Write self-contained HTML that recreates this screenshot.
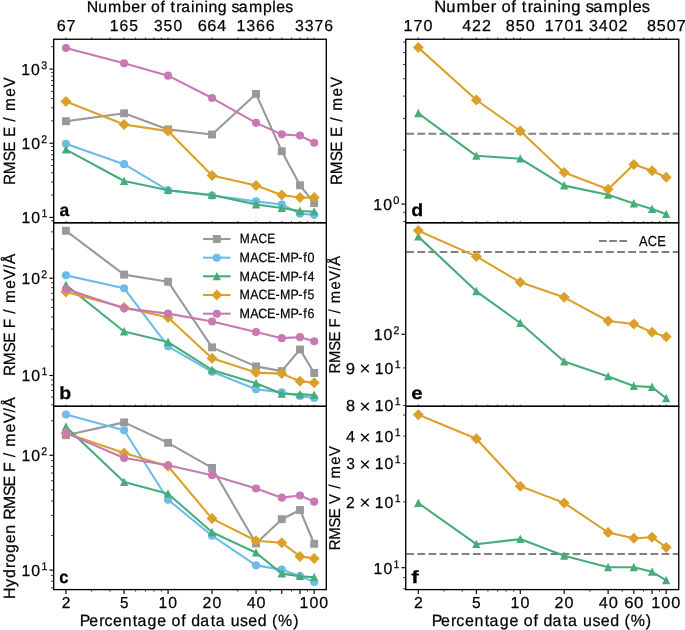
<!DOCTYPE html>
<html><head><meta charset="utf-8"><title>Learning curves</title>
<style>html,body{margin:0;padding:0;background:#fff;}svg{display:block;}text{font-family:"Liberation Sans",sans-serif;text-rendering:geometricPrecision;stroke:#000;stroke-width:0.25px;}</style>
</head><body>
<svg width="685" height="630" viewBox="0 0 685 630" font-family="Liberation Sans, sans-serif">
<rect width="685" height="630" fill="#fff"/>
<g opacity="0.999">
<g>
<polyline points="65.95,121.2 124.09,113.3 168.07,129.4 212.05,134.5 256.03,93.9 281.76,151.2 300.01,185.3 314.17,203.1" fill="none" stroke="#999999" stroke-width="2.1" stroke-linejoin="round" stroke-linecap="square"/>
<rect x="62" y="117.25" width="7.9" height="7.9" fill="#999999"/>
<rect x="120.14" y="109.35" width="7.9" height="7.9" fill="#999999"/>
<rect x="164.12" y="125.45" width="7.9" height="7.9" fill="#999999"/>
<rect x="208.1" y="130.55" width="7.9" height="7.9" fill="#999999"/>
<rect x="252.08" y="89.95" width="7.9" height="7.9" fill="#999999"/>
<rect x="277.81" y="147.25" width="7.9" height="7.9" fill="#999999"/>
<rect x="296.06" y="181.35" width="7.9" height="7.9" fill="#999999"/>
<rect x="310.22" y="199.15" width="7.9" height="7.9" fill="#999999"/>
<polyline points="65.95,143.75 124.09,164.15 168.07,190.35 212.05,195.45 256.03,201.35 281.76,204.45 300.01,213.65 314.17,214.85" fill="none" stroke="#6CBCE8" stroke-width="2.1" stroke-linejoin="round" stroke-linecap="square"/>
<circle cx="65.95" cy="143.75" r="4.05" fill="#6CBCE8"/>
<circle cx="124.09" cy="164.15" r="4.05" fill="#6CBCE8"/>
<circle cx="168.07" cy="190.35" r="4.05" fill="#6CBCE8"/>
<circle cx="212.05" cy="195.45" r="4.05" fill="#6CBCE8"/>
<circle cx="256.03" cy="201.35" r="4.05" fill="#6CBCE8"/>
<circle cx="281.76" cy="204.45" r="4.05" fill="#6CBCE8"/>
<circle cx="300.01" cy="213.65" r="4.05" fill="#6CBCE8"/>
<circle cx="314.17" cy="214.85" r="4.05" fill="#6CBCE8"/>
<polyline points="65.95,149.6 124.09,181 168.07,190.2 212.05,195 256.03,204.5 281.76,208 300.01,211 314.17,211.7" fill="none" stroke="#46AC79" stroke-width="2.1" stroke-linejoin="round" stroke-linecap="square"/>
<path d="M65.95 145.1L70.1 153.5L61.8 153.5Z" fill="#46AC79"/>
<path d="M124.09 176.5L128.24 184.9L119.94 184.9Z" fill="#46AC79"/>
<path d="M168.07 185.7L172.22 194.1L163.92 194.1Z" fill="#46AC79"/>
<path d="M212.05 190.5L216.2 198.9L207.9 198.9Z" fill="#46AC79"/>
<path d="M256.03 200L260.18 208.4L251.88 208.4Z" fill="#46AC79"/>
<path d="M281.76 203.5L285.91 211.9L277.61 211.9Z" fill="#46AC79"/>
<path d="M300.01 206.5L304.16 214.9L295.86 214.9Z" fill="#46AC79"/>
<path d="M314.17 207.2L318.32 215.6L310.02 215.6Z" fill="#46AC79"/>
<polyline points="65.95,101.4 124.09,124.5 168.07,131.1 212.05,175.5 256.03,185.5 281.76,195.1 300.01,197.6 314.17,197.6" fill="none" stroke="#DBA02A" stroke-width="2.1" stroke-linejoin="round" stroke-linecap="square"/>
<path d="M65.95 95.9L71.45 101.4L65.95 106.9L60.45 101.4Z" fill="#DBA02A"/>
<path d="M124.09 119L129.59 124.5L124.09 130L118.59 124.5Z" fill="#DBA02A"/>
<path d="M168.07 125.6L173.57 131.1L168.07 136.6L162.57 131.1Z" fill="#DBA02A"/>
<path d="M212.05 170L217.55 175.5L212.05 181L206.55 175.5Z" fill="#DBA02A"/>
<path d="M256.03 180L261.53 185.5L256.03 191L250.53 185.5Z" fill="#DBA02A"/>
<path d="M281.76 189.6L287.26 195.1L281.76 200.6L276.26 195.1Z" fill="#DBA02A"/>
<path d="M300.01 192.1L305.51 197.6L300.01 203.1L294.51 197.6Z" fill="#DBA02A"/>
<path d="M314.17 192.1L319.67 197.6L314.17 203.1L308.67 197.6Z" fill="#DBA02A"/>
<polyline points="65.95,48.05 124.09,63.35 168.07,75.65 212.05,98.05 256.03,122.85 281.76,134.35 300.01,135.55 314.17,142.75" fill="none" stroke="#C878B2" stroke-width="2.1" stroke-linejoin="round" stroke-linecap="square"/>
<circle cx="65.95" cy="48.05" r="4.05" fill="#C878B2"/>
<circle cx="124.09" cy="63.35" r="4.05" fill="#C878B2"/>
<circle cx="168.07" cy="75.65" r="4.05" fill="#C878B2"/>
<circle cx="212.05" cy="98.05" r="4.05" fill="#C878B2"/>
<circle cx="256.03" cy="122.85" r="4.05" fill="#C878B2"/>
<circle cx="281.76" cy="134.35" r="4.05" fill="#C878B2"/>
<circle cx="300.01" cy="135.55" r="4.05" fill="#C878B2"/>
<circle cx="314.17" cy="142.75" r="4.05" fill="#C878B2"/>
</g>
<g>
<polyline points="65.95,230.8 124.09,274.6 168.07,281.7 212.05,347.4 256.03,366.4 281.76,371.1 300.01,349.5 314.17,373" fill="none" stroke="#999999" stroke-width="2.1" stroke-linejoin="round" stroke-linecap="square"/>
<rect x="62" y="226.85" width="7.9" height="7.9" fill="#999999"/>
<rect x="120.14" y="270.65" width="7.9" height="7.9" fill="#999999"/>
<rect x="164.12" y="277.75" width="7.9" height="7.9" fill="#999999"/>
<rect x="208.1" y="343.45" width="7.9" height="7.9" fill="#999999"/>
<rect x="252.08" y="362.45" width="7.9" height="7.9" fill="#999999"/>
<rect x="277.81" y="367.15" width="7.9" height="7.9" fill="#999999"/>
<rect x="296.06" y="345.55" width="7.9" height="7.9" fill="#999999"/>
<rect x="310.22" y="369.05" width="7.9" height="7.9" fill="#999999"/>
<polyline points="65.95,275.35 124.09,288.25 168.07,346.35 212.05,371.85 256.03,389.25 281.76,392.35 300.01,395.95 314.17,398.05" fill="none" stroke="#6CBCE8" stroke-width="2.1" stroke-linejoin="round" stroke-linecap="square"/>
<circle cx="65.95" cy="275.35" r="4.05" fill="#6CBCE8"/>
<circle cx="124.09" cy="288.25" r="4.05" fill="#6CBCE8"/>
<circle cx="168.07" cy="346.35" r="4.05" fill="#6CBCE8"/>
<circle cx="212.05" cy="371.85" r="4.05" fill="#6CBCE8"/>
<circle cx="256.03" cy="389.25" r="4.05" fill="#6CBCE8"/>
<circle cx="281.76" cy="392.35" r="4.05" fill="#6CBCE8"/>
<circle cx="300.01" cy="395.95" r="4.05" fill="#6CBCE8"/>
<circle cx="314.17" cy="398.05" r="4.05" fill="#6CBCE8"/>
<polyline points="65.95,285 124.09,331.5 168.07,342.1 212.05,369.9 256.03,383.2 281.76,393.8 300.01,394.4 314.17,395" fill="none" stroke="#46AC79" stroke-width="2.1" stroke-linejoin="round" stroke-linecap="square"/>
<path d="M65.95 280.5L70.1 288.9L61.8 288.9Z" fill="#46AC79"/>
<path d="M124.09 327L128.24 335.4L119.94 335.4Z" fill="#46AC79"/>
<path d="M168.07 337.6L172.22 346L163.92 346Z" fill="#46AC79"/>
<path d="M212.05 365.4L216.2 373.8L207.9 373.8Z" fill="#46AC79"/>
<path d="M256.03 378.7L260.18 387.1L251.88 387.1Z" fill="#46AC79"/>
<path d="M281.76 389.3L285.91 397.7L277.61 397.7Z" fill="#46AC79"/>
<path d="M300.01 389.9L304.16 398.3L295.86 398.3Z" fill="#46AC79"/>
<path d="M314.17 390.5L318.32 398.9L310.02 398.9Z" fill="#46AC79"/>
<polyline points="65.95,292 124.09,307.5 168.07,317.5 212.05,358.2 256.03,372.6 281.76,373.6 300.01,381.3 314.17,382.8" fill="none" stroke="#DBA02A" stroke-width="2.1" stroke-linejoin="round" stroke-linecap="square"/>
<path d="M65.95 286.5L71.45 292L65.95 297.5L60.45 292Z" fill="#DBA02A"/>
<path d="M124.09 302L129.59 307.5L124.09 313L118.59 307.5Z" fill="#DBA02A"/>
<path d="M168.07 312L173.57 317.5L168.07 323L162.57 317.5Z" fill="#DBA02A"/>
<path d="M212.05 352.7L217.55 358.2L212.05 363.7L206.55 358.2Z" fill="#DBA02A"/>
<path d="M256.03 367.1L261.53 372.6L256.03 378.1L250.53 372.6Z" fill="#DBA02A"/>
<path d="M281.76 368.1L287.26 373.6L281.76 379.1L276.26 373.6Z" fill="#DBA02A"/>
<path d="M300.01 375.8L305.51 381.3L300.01 386.8L294.51 381.3Z" fill="#DBA02A"/>
<path d="M314.17 377.3L319.67 382.8L314.17 388.3L308.67 382.8Z" fill="#DBA02A"/>
<polyline points="65.95,288.95 124.09,308.35 168.07,313.65 212.05,321.45 256.03,332.05 281.76,338.15 300.01,337.15 314.17,341.25" fill="none" stroke="#C878B2" stroke-width="2.1" stroke-linejoin="round" stroke-linecap="square"/>
<circle cx="65.95" cy="288.95" r="4.05" fill="#C878B2"/>
<circle cx="124.09" cy="308.35" r="4.05" fill="#C878B2"/>
<circle cx="168.07" cy="313.65" r="4.05" fill="#C878B2"/>
<circle cx="212.05" cy="321.45" r="4.05" fill="#C878B2"/>
<circle cx="256.03" cy="332.05" r="4.05" fill="#C878B2"/>
<circle cx="281.76" cy="338.15" r="4.05" fill="#C878B2"/>
<circle cx="300.01" cy="337.15" r="4.05" fill="#C878B2"/>
<circle cx="314.17" cy="341.25" r="4.05" fill="#C878B2"/>
</g>
<g>
<polyline points="65.95,435.2 124.09,422.4 168.07,442.8 212.05,467.9 256.03,543.5 281.76,519.2 300.01,510 314.17,543.8" fill="none" stroke="#999999" stroke-width="2.1" stroke-linejoin="round" stroke-linecap="square"/>
<rect x="62" y="431.25" width="7.9" height="7.9" fill="#999999"/>
<rect x="120.14" y="418.45" width="7.9" height="7.9" fill="#999999"/>
<rect x="164.12" y="438.85" width="7.9" height="7.9" fill="#999999"/>
<rect x="208.1" y="463.95" width="7.9" height="7.9" fill="#999999"/>
<rect x="252.08" y="539.55" width="7.9" height="7.9" fill="#999999"/>
<rect x="277.81" y="515.25" width="7.9" height="7.9" fill="#999999"/>
<rect x="296.06" y="506.05" width="7.9" height="7.9" fill="#999999"/>
<rect x="310.22" y="539.85" width="7.9" height="7.9" fill="#999999"/>
<polyline points="65.95,414.55 124.09,430.25 168.07,499.75 212.05,535.75 256.03,565.35 281.76,569.65 300.01,576.15 314.17,581.95" fill="none" stroke="#6CBCE8" stroke-width="2.1" stroke-linejoin="round" stroke-linecap="square"/>
<circle cx="65.95" cy="414.55" r="4.05" fill="#6CBCE8"/>
<circle cx="124.09" cy="430.25" r="4.05" fill="#6CBCE8"/>
<circle cx="168.07" cy="499.75" r="4.05" fill="#6CBCE8"/>
<circle cx="212.05" cy="535.75" r="4.05" fill="#6CBCE8"/>
<circle cx="256.03" cy="565.35" r="4.05" fill="#6CBCE8"/>
<circle cx="281.76" cy="569.65" r="4.05" fill="#6CBCE8"/>
<circle cx="300.01" cy="576.15" r="4.05" fill="#6CBCE8"/>
<circle cx="314.17" cy="581.95" r="4.05" fill="#6CBCE8"/>
<polyline points="65.95,426.8 124.09,482.1 168.07,493.7 212.05,532.3 256.03,552.7 281.76,573.6 300.01,576.2 314.17,577.3" fill="none" stroke="#46AC79" stroke-width="2.1" stroke-linejoin="round" stroke-linecap="square"/>
<path d="M65.95 422.3L70.1 430.7L61.8 430.7Z" fill="#46AC79"/>
<path d="M124.09 477.6L128.24 486L119.94 486Z" fill="#46AC79"/>
<path d="M168.07 489.2L172.22 497.6L163.92 497.6Z" fill="#46AC79"/>
<path d="M212.05 527.8L216.2 536.2L207.9 536.2Z" fill="#46AC79"/>
<path d="M256.03 548.2L260.18 556.6L251.88 556.6Z" fill="#46AC79"/>
<path d="M281.76 569.1L285.91 577.5L277.61 577.5Z" fill="#46AC79"/>
<path d="M300.01 571.7L304.16 580.1L295.86 580.1Z" fill="#46AC79"/>
<path d="M314.17 572.8L318.32 581.2L310.02 581.2Z" fill="#46AC79"/>
<polyline points="65.95,433.2 124.09,453 168.07,466.3 212.05,518.6 256.03,540.7 281.76,542.7 300.01,556.4 314.17,558.5" fill="none" stroke="#DBA02A" stroke-width="2.1" stroke-linejoin="round" stroke-linecap="square"/>
<path d="M65.95 427.7L71.45 433.2L65.95 438.7L60.45 433.2Z" fill="#DBA02A"/>
<path d="M124.09 447.5L129.59 453L124.09 458.5L118.59 453Z" fill="#DBA02A"/>
<path d="M168.07 460.8L173.57 466.3L168.07 471.8L162.57 466.3Z" fill="#DBA02A"/>
<path d="M212.05 513.1L217.55 518.6L212.05 524.1L206.55 518.6Z" fill="#DBA02A"/>
<path d="M256.03 535.2L261.53 540.7L256.03 546.2L250.53 540.7Z" fill="#DBA02A"/>
<path d="M281.76 537.2L287.26 542.7L281.76 548.2L276.26 542.7Z" fill="#DBA02A"/>
<path d="M300.01 550.9L305.51 556.4L300.01 561.9L294.51 556.4Z" fill="#DBA02A"/>
<path d="M314.17 553L319.67 558.5L314.17 564L308.67 558.5Z" fill="#DBA02A"/>
<polyline points="65.95,432.95 124.09,458.05 168.07,465.25 212.05,475.25 256.03,488.55 281.76,497.65 300.01,495.45 314.17,501.65" fill="none" stroke="#C878B2" stroke-width="2.1" stroke-linejoin="round" stroke-linecap="square"/>
<circle cx="65.95" cy="432.95" r="4.05" fill="#C878B2"/>
<circle cx="124.09" cy="458.05" r="4.05" fill="#C878B2"/>
<circle cx="168.07" cy="465.25" r="4.05" fill="#C878B2"/>
<circle cx="212.05" cy="475.25" r="4.05" fill="#C878B2"/>
<circle cx="256.03" cy="488.55" r="4.05" fill="#C878B2"/>
<circle cx="281.76" cy="497.65" r="4.05" fill="#C878B2"/>
<circle cx="300.01" cy="495.45" r="4.05" fill="#C878B2"/>
<circle cx="314.17" cy="501.65" r="4.05" fill="#C878B2"/>
</g>
<g>
<line x1="405.75" y1="133.7" x2="678.75" y2="133.7" stroke="#808080" stroke-width="2" stroke-dasharray="7.7 3.4" stroke-dashoffset="-0.55"/>
<polyline points="418.3,113.3 476.36,155.8 520.28,158.7 564.2,185.6 608.12,194.8 633.81,203.6 652.04,209.1 666.18,214.2" fill="none" stroke="#46AC79" stroke-width="2.1" stroke-linejoin="round" stroke-linecap="square"/>
<path d="M418.3 108.8L422.45 117.2L414.15 117.2Z" fill="#46AC79"/>
<path d="M476.36 151.3L480.51 159.7L472.21 159.7Z" fill="#46AC79"/>
<path d="M520.28 154.2L524.43 162.6L516.13 162.6Z" fill="#46AC79"/>
<path d="M564.2 181.1L568.35 189.5L560.05 189.5Z" fill="#46AC79"/>
<path d="M608.12 190.3L612.27 198.7L603.97 198.7Z" fill="#46AC79"/>
<path d="M633.81 199.1L637.96 207.5L629.66 207.5Z" fill="#46AC79"/>
<path d="M652.04 204.6L656.19 213L647.89 213Z" fill="#46AC79"/>
<path d="M666.18 209.7L670.33 218.1L662.03 218.1Z" fill="#46AC79"/>
<polyline points="418.3,47.6 476.36,100 520.28,131 564.2,172.6 608.12,189.3 633.81,164.4 652.04,170.7 666.18,177.3" fill="none" stroke="#DBA02A" stroke-width="2.1" stroke-linejoin="round" stroke-linecap="square"/>
<path d="M418.3 42.1L423.8 47.6L418.3 53.1L412.8 47.6Z" fill="#DBA02A"/>
<path d="M476.36 94.5L481.86 100L476.36 105.5L470.86 100Z" fill="#DBA02A"/>
<path d="M520.28 125.5L525.78 131L520.28 136.5L514.78 131Z" fill="#DBA02A"/>
<path d="M564.2 167.1L569.7 172.6L564.2 178.1L558.7 172.6Z" fill="#DBA02A"/>
<path d="M608.12 183.8L613.62 189.3L608.12 194.8L602.62 189.3Z" fill="#DBA02A"/>
<path d="M633.81 158.9L639.31 164.4L633.81 169.9L628.31 164.4Z" fill="#DBA02A"/>
<path d="M652.04 165.2L657.54 170.7L652.04 176.2L646.54 170.7Z" fill="#DBA02A"/>
<path d="M666.18 171.8L671.68 177.3L666.18 182.8L660.68 177.3Z" fill="#DBA02A"/>
</g>
<g>
<line x1="405.75" y1="252" x2="678.75" y2="252" stroke="#808080" stroke-width="2" stroke-dasharray="7.7 3.4" stroke-dashoffset="-0.55"/>
<polyline points="418.3,236.6 476.36,291.3 520.28,323 564.2,361.5 608.12,376.4 633.81,386 652.04,387.1 666.18,398.3" fill="none" stroke="#46AC79" stroke-width="2.1" stroke-linejoin="round" stroke-linecap="square"/>
<path d="M418.3 232.1L422.45 240.5L414.15 240.5Z" fill="#46AC79"/>
<path d="M476.36 286.8L480.51 295.2L472.21 295.2Z" fill="#46AC79"/>
<path d="M520.28 318.5L524.43 326.9L516.13 326.9Z" fill="#46AC79"/>
<path d="M564.2 357L568.35 365.4L560.05 365.4Z" fill="#46AC79"/>
<path d="M608.12 371.9L612.27 380.3L603.97 380.3Z" fill="#46AC79"/>
<path d="M633.81 381.5L637.96 389.9L629.66 389.9Z" fill="#46AC79"/>
<path d="M652.04 382.6L656.19 391L647.89 391Z" fill="#46AC79"/>
<path d="M666.18 393.8L670.33 402.2L662.03 402.2Z" fill="#46AC79"/>
<polyline points="418.3,230.6 476.36,256.4 520.28,282.3 564.2,297.3 608.12,321 633.81,324 652.04,332.2 666.18,336.8" fill="none" stroke="#DBA02A" stroke-width="2.1" stroke-linejoin="round" stroke-linecap="square"/>
<path d="M418.3 225.1L423.8 230.6L418.3 236.1L412.8 230.6Z" fill="#DBA02A"/>
<path d="M476.36 250.9L481.86 256.4L476.36 261.9L470.86 256.4Z" fill="#DBA02A"/>
<path d="M520.28 276.8L525.78 282.3L520.28 287.8L514.78 282.3Z" fill="#DBA02A"/>
<path d="M564.2 291.8L569.7 297.3L564.2 302.8L558.7 297.3Z" fill="#DBA02A"/>
<path d="M608.12 315.5L613.62 321L608.12 326.5L602.62 321Z" fill="#DBA02A"/>
<path d="M633.81 318.5L639.31 324L633.81 329.5L628.31 324Z" fill="#DBA02A"/>
<path d="M652.04 326.7L657.54 332.2L652.04 337.7L646.54 332.2Z" fill="#DBA02A"/>
<path d="M666.18 331.3L671.68 336.8L666.18 342.3L660.68 336.8Z" fill="#DBA02A"/>
</g>
<g>
<line x1="405.75" y1="554" x2="678.75" y2="554" stroke="#808080" stroke-width="2" stroke-dasharray="7.7 3.4" stroke-dashoffset="-0.55"/>
<polyline points="418.3,503.1 476.36,544.2 520.28,539.1 564.2,555.8 608.12,567.3 633.81,567.3 652.04,571.8 666.18,580.4" fill="none" stroke="#46AC79" stroke-width="2.1" stroke-linejoin="round" stroke-linecap="square"/>
<path d="M418.3 498.6L422.45 507L414.15 507Z" fill="#46AC79"/>
<path d="M476.36 539.7L480.51 548.1L472.21 548.1Z" fill="#46AC79"/>
<path d="M520.28 534.6L524.43 543L516.13 543Z" fill="#46AC79"/>
<path d="M564.2 551.3L568.35 559.7L560.05 559.7Z" fill="#46AC79"/>
<path d="M608.12 562.8L612.27 571.2L603.97 571.2Z" fill="#46AC79"/>
<path d="M633.81 562.8L637.96 571.2L629.66 571.2Z" fill="#46AC79"/>
<path d="M652.04 567.3L656.19 575.7L647.89 575.7Z" fill="#46AC79"/>
<path d="M666.18 575.9L670.33 584.3L662.03 584.3Z" fill="#46AC79"/>
<polyline points="418.3,414.7 476.36,438.8 520.28,486.2 564.2,502.9 608.12,532.5 633.81,538.2 652.04,537.2 666.18,547.4" fill="none" stroke="#DBA02A" stroke-width="2.1" stroke-linejoin="round" stroke-linecap="square"/>
<path d="M418.3 409.2L423.8 414.7L418.3 420.2L412.8 414.7Z" fill="#DBA02A"/>
<path d="M476.36 433.3L481.86 438.8L476.36 444.3L470.86 438.8Z" fill="#DBA02A"/>
<path d="M520.28 480.7L525.78 486.2L520.28 491.7L514.78 486.2Z" fill="#DBA02A"/>
<path d="M564.2 497.4L569.7 502.9L564.2 508.4L558.7 502.9Z" fill="#DBA02A"/>
<path d="M608.12 527L613.62 532.5L608.12 538L602.62 532.5Z" fill="#DBA02A"/>
<path d="M633.81 532.7L639.31 538.2L633.81 543.7L628.31 538.2Z" fill="#DBA02A"/>
<path d="M652.04 531.7L657.54 537.2L652.04 542.7L646.54 537.2Z" fill="#DBA02A"/>
<path d="M666.18 541.9L671.68 547.4L666.18 552.9L660.68 547.4Z" fill="#DBA02A"/>
</g>
<line x1="49.4" y1="217.4" x2="53.7" y2="217.4" stroke="#000" stroke-width="1.15"/>
<line x1="49.4" y1="143.22" x2="53.7" y2="143.22" stroke="#000" stroke-width="1.15"/>
<line x1="49.4" y1="69.04" x2="53.7" y2="69.04" stroke="#000" stroke-width="1.15"/>
<line x1="51.2" y1="220.79" x2="53.7" y2="220.79" stroke="#000" stroke-width="0.85"/>
<line x1="51.2" y1="195.07" x2="53.7" y2="195.07" stroke="#000" stroke-width="0.85"/>
<line x1="51.2" y1="182.01" x2="53.7" y2="182.01" stroke="#000" stroke-width="0.85"/>
<line x1="51.2" y1="172.74" x2="53.7" y2="172.74" stroke="#000" stroke-width="0.85"/>
<line x1="51.2" y1="165.55" x2="53.7" y2="165.55" stroke="#000" stroke-width="0.85"/>
<line x1="51.2" y1="159.68" x2="53.7" y2="159.68" stroke="#000" stroke-width="0.85"/>
<line x1="51.2" y1="154.71" x2="53.7" y2="154.71" stroke="#000" stroke-width="0.85"/>
<line x1="51.2" y1="150.41" x2="53.7" y2="150.41" stroke="#000" stroke-width="0.85"/>
<line x1="51.2" y1="146.61" x2="53.7" y2="146.61" stroke="#000" stroke-width="0.85"/>
<line x1="51.2" y1="120.89" x2="53.7" y2="120.89" stroke="#000" stroke-width="0.85"/>
<line x1="51.2" y1="107.83" x2="53.7" y2="107.83" stroke="#000" stroke-width="0.85"/>
<line x1="51.2" y1="98.56" x2="53.7" y2="98.56" stroke="#000" stroke-width="0.85"/>
<line x1="51.2" y1="91.37" x2="53.7" y2="91.37" stroke="#000" stroke-width="0.85"/>
<line x1="51.2" y1="85.5" x2="53.7" y2="85.5" stroke="#000" stroke-width="0.85"/>
<line x1="51.2" y1="80.53" x2="53.7" y2="80.53" stroke="#000" stroke-width="0.85"/>
<line x1="51.2" y1="76.23" x2="53.7" y2="76.23" stroke="#000" stroke-width="0.85"/>
<line x1="51.2" y1="72.43" x2="53.7" y2="72.43" stroke="#000" stroke-width="0.85"/>
<line x1="51.2" y1="46.71" x2="53.7" y2="46.71" stroke="#000" stroke-width="0.85"/>
<line x1="49.4" y1="375.5" x2="53.7" y2="375.5" stroke="#000" stroke-width="1.15"/>
<line x1="49.4" y1="278.25" x2="53.7" y2="278.25" stroke="#000" stroke-width="1.15"/>
<line x1="51.2" y1="404.78" x2="53.7" y2="404.78" stroke="#000" stroke-width="0.85"/>
<line x1="51.2" y1="397.07" x2="53.7" y2="397.07" stroke="#000" stroke-width="0.85"/>
<line x1="51.2" y1="390.56" x2="53.7" y2="390.56" stroke="#000" stroke-width="0.85"/>
<line x1="51.2" y1="384.92" x2="53.7" y2="384.92" stroke="#000" stroke-width="0.85"/>
<line x1="51.2" y1="379.95" x2="53.7" y2="379.95" stroke="#000" stroke-width="0.85"/>
<line x1="51.2" y1="346.22" x2="53.7" y2="346.22" stroke="#000" stroke-width="0.85"/>
<line x1="51.2" y1="329.1" x2="53.7" y2="329.1" stroke="#000" stroke-width="0.85"/>
<line x1="51.2" y1="316.95" x2="53.7" y2="316.95" stroke="#000" stroke-width="0.85"/>
<line x1="51.2" y1="307.53" x2="53.7" y2="307.53" stroke="#000" stroke-width="0.85"/>
<line x1="51.2" y1="299.82" x2="53.7" y2="299.82" stroke="#000" stroke-width="0.85"/>
<line x1="51.2" y1="293.31" x2="53.7" y2="293.31" stroke="#000" stroke-width="0.85"/>
<line x1="51.2" y1="287.67" x2="53.7" y2="287.67" stroke="#000" stroke-width="0.85"/>
<line x1="51.2" y1="282.7" x2="53.7" y2="282.7" stroke="#000" stroke-width="0.85"/>
<line x1="51.2" y1="248.97" x2="53.7" y2="248.97" stroke="#000" stroke-width="0.85"/>
<line x1="51.2" y1="231.85" x2="53.7" y2="231.85" stroke="#000" stroke-width="0.85"/>
<line x1="49.4" y1="570.1" x2="53.7" y2="570.1" stroke="#000" stroke-width="1.15"/>
<line x1="49.4" y1="455.3" x2="53.7" y2="455.3" stroke="#000" stroke-width="1.15"/>
<line x1="51.2" y1="587.88" x2="53.7" y2="587.88" stroke="#000" stroke-width="0.85"/>
<line x1="51.2" y1="581.23" x2="53.7" y2="581.23" stroke="#000" stroke-width="0.85"/>
<line x1="51.2" y1="575.35" x2="53.7" y2="575.35" stroke="#000" stroke-width="0.85"/>
<line x1="51.2" y1="535.54" x2="53.7" y2="535.54" stroke="#000" stroke-width="0.85"/>
<line x1="51.2" y1="515.33" x2="53.7" y2="515.33" stroke="#000" stroke-width="0.85"/>
<line x1="51.2" y1="500.98" x2="53.7" y2="500.98" stroke="#000" stroke-width="0.85"/>
<line x1="51.2" y1="489.86" x2="53.7" y2="489.86" stroke="#000" stroke-width="0.85"/>
<line x1="51.2" y1="480.77" x2="53.7" y2="480.77" stroke="#000" stroke-width="0.85"/>
<line x1="51.2" y1="473.08" x2="53.7" y2="473.08" stroke="#000" stroke-width="0.85"/>
<line x1="51.2" y1="466.43" x2="53.7" y2="466.43" stroke="#000" stroke-width="0.85"/>
<line x1="51.2" y1="460.55" x2="53.7" y2="460.55" stroke="#000" stroke-width="0.85"/>
<line x1="51.2" y1="420.74" x2="53.7" y2="420.74" stroke="#000" stroke-width="0.85"/>
<line x1="401.45" y1="204.1" x2="405.75" y2="204.1" stroke="#000" stroke-width="1.15"/>
<line x1="403.25" y1="221.49" x2="405.75" y2="221.49" stroke="#000" stroke-width="0.85"/>
<line x1="403.25" y1="212.31" x2="405.75" y2="212.31" stroke="#000" stroke-width="0.85"/>
<line x1="403.25" y1="150.1" x2="405.75" y2="150.1" stroke="#000" stroke-width="0.85"/>
<line x1="403.25" y1="118.5" x2="405.75" y2="118.5" stroke="#000" stroke-width="0.85"/>
<line x1="403.25" y1="96.09" x2="405.75" y2="96.09" stroke="#000" stroke-width="0.85"/>
<line x1="403.25" y1="78.7" x2="405.75" y2="78.7" stroke="#000" stroke-width="0.85"/>
<line x1="403.25" y1="64.5" x2="405.75" y2="64.5" stroke="#000" stroke-width="0.85"/>
<line x1="403.25" y1="52.49" x2="405.75" y2="52.49" stroke="#000" stroke-width="0.85"/>
<line x1="403.25" y1="42.09" x2="405.75" y2="42.09" stroke="#000" stroke-width="0.85"/>
<line x1="401.45" y1="334.3" x2="405.75" y2="334.3" stroke="#000" stroke-width="1.15"/>
<line x1="403.25" y1="405.51" x2="405.75" y2="405.51" stroke="#000" stroke-width="0.85"/>
<line x1="403.25" y1="367.92" x2="405.75" y2="367.92" stroke="#000" stroke-width="0.85"/>
<line x1="401.45" y1="567.7" x2="405.75" y2="567.7" stroke="#000" stroke-width="1.15"/>
<line x1="403.25" y1="588.87" x2="405.75" y2="588.87" stroke="#000" stroke-width="0.85"/>
<line x1="403.25" y1="577.7" x2="405.75" y2="577.7" stroke="#000" stroke-width="0.85"/>
<line x1="403.25" y1="501.92" x2="405.75" y2="501.92" stroke="#000" stroke-width="0.85"/>
<line x1="403.25" y1="463.45" x2="405.75" y2="463.45" stroke="#000" stroke-width="0.85"/>
<line x1="403.25" y1="436.15" x2="405.75" y2="436.15" stroke="#000" stroke-width="0.85"/>
<line x1="403.25" y1="414.98" x2="405.75" y2="414.98" stroke="#000" stroke-width="0.85"/>
<line x1="65.95" y1="589.6" x2="65.95" y2="593.9" stroke="#000" stroke-width="1.15"/>
<line x1="124.09" y1="589.6" x2="124.09" y2="593.9" stroke="#000" stroke-width="1.15"/>
<line x1="168.07" y1="589.6" x2="168.07" y2="593.9" stroke="#000" stroke-width="1.15"/>
<line x1="212.05" y1="589.6" x2="212.05" y2="593.9" stroke="#000" stroke-width="1.15"/>
<line x1="256.03" y1="589.6" x2="256.03" y2="593.9" stroke="#000" stroke-width="1.15"/>
<line x1="281.76" y1="589.6" x2="281.76" y2="593.9" stroke="#000" stroke-width="1.15"/>
<line x1="300.01" y1="589.6" x2="300.01" y2="593.9" stroke="#000" stroke-width="1.15"/>
<line x1="314.17" y1="589.6" x2="314.17" y2="593.9" stroke="#000" stroke-width="1.15"/>
<line x1="91.68" y1="589.6" x2="91.68" y2="591.6" stroke="#000" stroke-width="0.8"/>
<line x1="109.93" y1="589.6" x2="109.93" y2="591.6" stroke="#000" stroke-width="0.8"/>
<line x1="135.66" y1="589.6" x2="135.66" y2="591.6" stroke="#000" stroke-width="0.8"/>
<line x1="145.44" y1="589.6" x2="145.44" y2="591.6" stroke="#000" stroke-width="0.8"/>
<line x1="153.91" y1="589.6" x2="153.91" y2="591.6" stroke="#000" stroke-width="0.8"/>
<line x1="161.38" y1="589.6" x2="161.38" y2="591.6" stroke="#000" stroke-width="0.8"/>
<line x1="237.78" y1="589.6" x2="237.78" y2="591.6" stroke="#000" stroke-width="0.8"/>
<line x1="270.19" y1="589.6" x2="270.19" y2="591.6" stroke="#000" stroke-width="0.8"/>
<line x1="291.54" y1="589.6" x2="291.54" y2="591.6" stroke="#000" stroke-width="0.8"/>
<line x1="307.48" y1="589.6" x2="307.48" y2="591.6" stroke="#000" stroke-width="0.8"/>
<line x1="65.95" y1="39.25" x2="65.95" y2="37.65" stroke="#000" stroke-width="0.8"/>
<line x1="124.09" y1="39.25" x2="124.09" y2="37.65" stroke="#000" stroke-width="0.8"/>
<line x1="168.07" y1="39.25" x2="168.07" y2="37.65" stroke="#000" stroke-width="0.8"/>
<line x1="212.05" y1="39.25" x2="212.05" y2="37.65" stroke="#000" stroke-width="0.8"/>
<line x1="256.03" y1="39.25" x2="256.03" y2="37.65" stroke="#000" stroke-width="0.8"/>
<line x1="281.76" y1="39.25" x2="281.76" y2="37.65" stroke="#000" stroke-width="0.8"/>
<line x1="300.01" y1="39.25" x2="300.01" y2="37.65" stroke="#000" stroke-width="0.8"/>
<line x1="314.17" y1="39.25" x2="314.17" y2="37.65" stroke="#000" stroke-width="0.8"/>
<line x1="91.68" y1="39.25" x2="91.68" y2="37.65" stroke="#000" stroke-width="0.8"/>
<line x1="109.93" y1="39.25" x2="109.93" y2="37.65" stroke="#000" stroke-width="0.8"/>
<line x1="135.66" y1="39.25" x2="135.66" y2="37.65" stroke="#000" stroke-width="0.8"/>
<line x1="145.44" y1="39.25" x2="145.44" y2="37.65" stroke="#000" stroke-width="0.8"/>
<line x1="153.91" y1="39.25" x2="153.91" y2="37.65" stroke="#000" stroke-width="0.8"/>
<line x1="161.38" y1="39.25" x2="161.38" y2="37.65" stroke="#000" stroke-width="0.8"/>
<line x1="237.78" y1="39.25" x2="237.78" y2="37.65" stroke="#000" stroke-width="0.8"/>
<line x1="270.19" y1="39.25" x2="270.19" y2="37.65" stroke="#000" stroke-width="0.8"/>
<line x1="291.54" y1="39.25" x2="291.54" y2="37.65" stroke="#000" stroke-width="0.8"/>
<line x1="307.48" y1="39.25" x2="307.48" y2="37.65" stroke="#000" stroke-width="0.8"/>
<line x1="65.95" y1="222.75" x2="65.95" y2="221.15" stroke="#000" stroke-width="0.8"/>
<line x1="124.09" y1="222.75" x2="124.09" y2="221.15" stroke="#000" stroke-width="0.8"/>
<line x1="168.07" y1="222.75" x2="168.07" y2="221.15" stroke="#000" stroke-width="0.8"/>
<line x1="212.05" y1="222.75" x2="212.05" y2="221.15" stroke="#000" stroke-width="0.8"/>
<line x1="256.03" y1="222.75" x2="256.03" y2="221.15" stroke="#000" stroke-width="0.8"/>
<line x1="281.76" y1="222.75" x2="281.76" y2="221.15" stroke="#000" stroke-width="0.8"/>
<line x1="300.01" y1="222.75" x2="300.01" y2="221.15" stroke="#000" stroke-width="0.8"/>
<line x1="314.17" y1="222.75" x2="314.17" y2="221.15" stroke="#000" stroke-width="0.8"/>
<line x1="91.68" y1="222.75" x2="91.68" y2="221.15" stroke="#000" stroke-width="0.8"/>
<line x1="109.93" y1="222.75" x2="109.93" y2="221.15" stroke="#000" stroke-width="0.8"/>
<line x1="135.66" y1="222.75" x2="135.66" y2="221.15" stroke="#000" stroke-width="0.8"/>
<line x1="145.44" y1="222.75" x2="145.44" y2="221.15" stroke="#000" stroke-width="0.8"/>
<line x1="153.91" y1="222.75" x2="153.91" y2="221.15" stroke="#000" stroke-width="0.8"/>
<line x1="161.38" y1="222.75" x2="161.38" y2="221.15" stroke="#000" stroke-width="0.8"/>
<line x1="237.78" y1="222.75" x2="237.78" y2="221.15" stroke="#000" stroke-width="0.8"/>
<line x1="270.19" y1="222.75" x2="270.19" y2="221.15" stroke="#000" stroke-width="0.8"/>
<line x1="291.54" y1="222.75" x2="291.54" y2="221.15" stroke="#000" stroke-width="0.8"/>
<line x1="307.48" y1="222.75" x2="307.48" y2="221.15" stroke="#000" stroke-width="0.8"/>
<line x1="65.95" y1="406.3" x2="65.95" y2="404.7" stroke="#000" stroke-width="0.8"/>
<line x1="124.09" y1="406.3" x2="124.09" y2="404.7" stroke="#000" stroke-width="0.8"/>
<line x1="168.07" y1="406.3" x2="168.07" y2="404.7" stroke="#000" stroke-width="0.8"/>
<line x1="212.05" y1="406.3" x2="212.05" y2="404.7" stroke="#000" stroke-width="0.8"/>
<line x1="256.03" y1="406.3" x2="256.03" y2="404.7" stroke="#000" stroke-width="0.8"/>
<line x1="281.76" y1="406.3" x2="281.76" y2="404.7" stroke="#000" stroke-width="0.8"/>
<line x1="300.01" y1="406.3" x2="300.01" y2="404.7" stroke="#000" stroke-width="0.8"/>
<line x1="314.17" y1="406.3" x2="314.17" y2="404.7" stroke="#000" stroke-width="0.8"/>
<line x1="91.68" y1="406.3" x2="91.68" y2="404.7" stroke="#000" stroke-width="0.8"/>
<line x1="109.93" y1="406.3" x2="109.93" y2="404.7" stroke="#000" stroke-width="0.8"/>
<line x1="135.66" y1="406.3" x2="135.66" y2="404.7" stroke="#000" stroke-width="0.8"/>
<line x1="145.44" y1="406.3" x2="145.44" y2="404.7" stroke="#000" stroke-width="0.8"/>
<line x1="153.91" y1="406.3" x2="153.91" y2="404.7" stroke="#000" stroke-width="0.8"/>
<line x1="161.38" y1="406.3" x2="161.38" y2="404.7" stroke="#000" stroke-width="0.8"/>
<line x1="237.78" y1="406.3" x2="237.78" y2="404.7" stroke="#000" stroke-width="0.8"/>
<line x1="270.19" y1="406.3" x2="270.19" y2="404.7" stroke="#000" stroke-width="0.8"/>
<line x1="291.54" y1="406.3" x2="291.54" y2="404.7" stroke="#000" stroke-width="0.8"/>
<line x1="307.48" y1="406.3" x2="307.48" y2="404.7" stroke="#000" stroke-width="0.8"/>
<line x1="418.3" y1="589.6" x2="418.3" y2="593.9" stroke="#000" stroke-width="1.15"/>
<line x1="476.36" y1="589.6" x2="476.36" y2="593.9" stroke="#000" stroke-width="1.15"/>
<line x1="520.28" y1="589.6" x2="520.28" y2="593.9" stroke="#000" stroke-width="1.15"/>
<line x1="564.2" y1="589.6" x2="564.2" y2="593.9" stroke="#000" stroke-width="1.15"/>
<line x1="608.12" y1="589.6" x2="608.12" y2="593.9" stroke="#000" stroke-width="1.15"/>
<line x1="633.81" y1="589.6" x2="633.81" y2="593.9" stroke="#000" stroke-width="1.15"/>
<line x1="652.04" y1="589.6" x2="652.04" y2="593.9" stroke="#000" stroke-width="1.15"/>
<line x1="666.18" y1="589.6" x2="666.18" y2="593.9" stroke="#000" stroke-width="1.15"/>
<line x1="443.99" y1="589.6" x2="443.99" y2="591.6" stroke="#000" stroke-width="0.8"/>
<line x1="462.22" y1="589.6" x2="462.22" y2="591.6" stroke="#000" stroke-width="0.8"/>
<line x1="487.91" y1="589.6" x2="487.91" y2="591.6" stroke="#000" stroke-width="0.8"/>
<line x1="497.68" y1="589.6" x2="497.68" y2="591.6" stroke="#000" stroke-width="0.8"/>
<line x1="506.14" y1="589.6" x2="506.14" y2="591.6" stroke="#000" stroke-width="0.8"/>
<line x1="513.6" y1="589.6" x2="513.6" y2="591.6" stroke="#000" stroke-width="0.8"/>
<line x1="589.89" y1="589.6" x2="589.89" y2="591.6" stroke="#000" stroke-width="0.8"/>
<line x1="622.26" y1="589.6" x2="622.26" y2="591.6" stroke="#000" stroke-width="0.8"/>
<line x1="643.58" y1="589.6" x2="643.58" y2="591.6" stroke="#000" stroke-width="0.8"/>
<line x1="659.5" y1="589.6" x2="659.5" y2="591.6" stroke="#000" stroke-width="0.8"/>
<line x1="418.3" y1="39.25" x2="418.3" y2="37.65" stroke="#000" stroke-width="0.8"/>
<line x1="476.36" y1="39.25" x2="476.36" y2="37.65" stroke="#000" stroke-width="0.8"/>
<line x1="520.28" y1="39.25" x2="520.28" y2="37.65" stroke="#000" stroke-width="0.8"/>
<line x1="564.2" y1="39.25" x2="564.2" y2="37.65" stroke="#000" stroke-width="0.8"/>
<line x1="608.12" y1="39.25" x2="608.12" y2="37.65" stroke="#000" stroke-width="0.8"/>
<line x1="633.81" y1="39.25" x2="633.81" y2="37.65" stroke="#000" stroke-width="0.8"/>
<line x1="652.04" y1="39.25" x2="652.04" y2="37.65" stroke="#000" stroke-width="0.8"/>
<line x1="666.18" y1="39.25" x2="666.18" y2="37.65" stroke="#000" stroke-width="0.8"/>
<line x1="443.99" y1="39.25" x2="443.99" y2="37.65" stroke="#000" stroke-width="0.8"/>
<line x1="462.22" y1="39.25" x2="462.22" y2="37.65" stroke="#000" stroke-width="0.8"/>
<line x1="487.91" y1="39.25" x2="487.91" y2="37.65" stroke="#000" stroke-width="0.8"/>
<line x1="497.68" y1="39.25" x2="497.68" y2="37.65" stroke="#000" stroke-width="0.8"/>
<line x1="506.14" y1="39.25" x2="506.14" y2="37.65" stroke="#000" stroke-width="0.8"/>
<line x1="513.6" y1="39.25" x2="513.6" y2="37.65" stroke="#000" stroke-width="0.8"/>
<line x1="589.89" y1="39.25" x2="589.89" y2="37.65" stroke="#000" stroke-width="0.8"/>
<line x1="622.26" y1="39.25" x2="622.26" y2="37.65" stroke="#000" stroke-width="0.8"/>
<line x1="643.58" y1="39.25" x2="643.58" y2="37.65" stroke="#000" stroke-width="0.8"/>
<line x1="659.5" y1="39.25" x2="659.5" y2="37.65" stroke="#000" stroke-width="0.8"/>
<line x1="418.3" y1="222.75" x2="418.3" y2="221.15" stroke="#000" stroke-width="0.8"/>
<line x1="476.36" y1="222.75" x2="476.36" y2="221.15" stroke="#000" stroke-width="0.8"/>
<line x1="520.28" y1="222.75" x2="520.28" y2="221.15" stroke="#000" stroke-width="0.8"/>
<line x1="564.2" y1="222.75" x2="564.2" y2="221.15" stroke="#000" stroke-width="0.8"/>
<line x1="608.12" y1="222.75" x2="608.12" y2="221.15" stroke="#000" stroke-width="0.8"/>
<line x1="633.81" y1="222.75" x2="633.81" y2="221.15" stroke="#000" stroke-width="0.8"/>
<line x1="652.04" y1="222.75" x2="652.04" y2="221.15" stroke="#000" stroke-width="0.8"/>
<line x1="666.18" y1="222.75" x2="666.18" y2="221.15" stroke="#000" stroke-width="0.8"/>
<line x1="443.99" y1="222.75" x2="443.99" y2="221.15" stroke="#000" stroke-width="0.8"/>
<line x1="462.22" y1="222.75" x2="462.22" y2="221.15" stroke="#000" stroke-width="0.8"/>
<line x1="487.91" y1="222.75" x2="487.91" y2="221.15" stroke="#000" stroke-width="0.8"/>
<line x1="497.68" y1="222.75" x2="497.68" y2="221.15" stroke="#000" stroke-width="0.8"/>
<line x1="506.14" y1="222.75" x2="506.14" y2="221.15" stroke="#000" stroke-width="0.8"/>
<line x1="513.6" y1="222.75" x2="513.6" y2="221.15" stroke="#000" stroke-width="0.8"/>
<line x1="589.89" y1="222.75" x2="589.89" y2="221.15" stroke="#000" stroke-width="0.8"/>
<line x1="622.26" y1="222.75" x2="622.26" y2="221.15" stroke="#000" stroke-width="0.8"/>
<line x1="643.58" y1="222.75" x2="643.58" y2="221.15" stroke="#000" stroke-width="0.8"/>
<line x1="659.5" y1="222.75" x2="659.5" y2="221.15" stroke="#000" stroke-width="0.8"/>
<line x1="418.3" y1="406.3" x2="418.3" y2="404.7" stroke="#000" stroke-width="0.8"/>
<line x1="476.36" y1="406.3" x2="476.36" y2="404.7" stroke="#000" stroke-width="0.8"/>
<line x1="520.28" y1="406.3" x2="520.28" y2="404.7" stroke="#000" stroke-width="0.8"/>
<line x1="564.2" y1="406.3" x2="564.2" y2="404.7" stroke="#000" stroke-width="0.8"/>
<line x1="608.12" y1="406.3" x2="608.12" y2="404.7" stroke="#000" stroke-width="0.8"/>
<line x1="633.81" y1="406.3" x2="633.81" y2="404.7" stroke="#000" stroke-width="0.8"/>
<line x1="652.04" y1="406.3" x2="652.04" y2="404.7" stroke="#000" stroke-width="0.8"/>
<line x1="666.18" y1="406.3" x2="666.18" y2="404.7" stroke="#000" stroke-width="0.8"/>
<line x1="443.99" y1="406.3" x2="443.99" y2="404.7" stroke="#000" stroke-width="0.8"/>
<line x1="462.22" y1="406.3" x2="462.22" y2="404.7" stroke="#000" stroke-width="0.8"/>
<line x1="487.91" y1="406.3" x2="487.91" y2="404.7" stroke="#000" stroke-width="0.8"/>
<line x1="497.68" y1="406.3" x2="497.68" y2="404.7" stroke="#000" stroke-width="0.8"/>
<line x1="506.14" y1="406.3" x2="506.14" y2="404.7" stroke="#000" stroke-width="0.8"/>
<line x1="513.6" y1="406.3" x2="513.6" y2="404.7" stroke="#000" stroke-width="0.8"/>
<line x1="589.89" y1="406.3" x2="589.89" y2="404.7" stroke="#000" stroke-width="0.8"/>
<line x1="622.26" y1="406.3" x2="622.26" y2="404.7" stroke="#000" stroke-width="0.8"/>
<line x1="643.58" y1="406.3" x2="643.58" y2="404.7" stroke="#000" stroke-width="0.8"/>
<line x1="659.5" y1="406.3" x2="659.5" y2="404.7" stroke="#000" stroke-width="0.8"/>
<rect x="53.7" y="39.25" width="272.6" height="183.5" fill="none" stroke="#000" stroke-width="1.35"/>
<rect x="53.7" y="222.75" width="272.6" height="183.55" fill="none" stroke="#000" stroke-width="1.35"/>
<rect x="53.7" y="406.3" width="272.6" height="183.3" fill="none" stroke="#000" stroke-width="1.35"/>
<rect x="405.75" y="39.25" width="273" height="183.5" fill="none" stroke="#000" stroke-width="1.35"/>
<rect x="405.75" y="222.75" width="273" height="183.55" fill="none" stroke="#000" stroke-width="1.35"/>
<rect x="405.75" y="406.3" width="273" height="183.3" fill="none" stroke="#000" stroke-width="1.35"/>
<text x="59.41" y="215.92" font-size="17.61" textLength="9.69" lengthAdjust="spacingAndGlyphs" font-weight="bold">a</text>
<text x="59.32" y="399.46" font-size="17.7" textLength="11.95" lengthAdjust="spacingAndGlyphs" font-weight="bold">b</text>
<text x="59.27" y="582.77" font-size="17.61" textLength="9.25" lengthAdjust="spacingAndGlyphs" font-weight="bold">c</text>
<text x="411.2" y="215.91" font-size="17.7" textLength="11.95" lengthAdjust="spacingAndGlyphs" font-weight="bold">d</text>
<text x="411.17" y="399.47" font-size="17.61" textLength="11.36" lengthAdjust="spacingAndGlyphs" font-weight="bold">e</text>
<text x="411.19" y="582.7" font-size="17.62" textLength="7.48" lengthAdjust="spacingAndGlyphs" font-weight="bold">f</text>
<text transform="translate(65.95 608.1) scale(0.9781 1)" x="-4.42" y="0" font-size="15.89" fill="#000">2</text>
<text transform="translate(124.09 608.1) scale(0.9577 1)" x="-4.4" y="0" font-size="15.89" fill="#000">5</text>
<text transform="translate(168.07 608.1) scale(0.9931 1)" x="-9.74 0.14" y="0" font-size="15.89" fill="#000">10</text>
<text transform="translate(212.05 608.1) scale(0.9969 1)" x="-9.56 0.41" y="0" font-size="15.89" fill="#000">20</text>
<text transform="translate(256.03 608.1) scale(1.0148 1)" x="-9.09 0.51" y="0" font-size="15.89" fill="#000">40</text>
<text transform="translate(314.17 608.1) scale(1.0006 1)" x="-14.56 -4.76 4.97" y="0" font-size="15.89" fill="#000">100</text>
<text transform="translate(418.3 608.1) scale(0.9973 1)" x="-4.42" y="0" font-size="15.89" fill="#000">2</text>
<text transform="translate(476.36 608.1) scale(0.9764 1)" x="-4.4" y="0" font-size="15.89" fill="#000">5</text>
<text transform="translate(520.28 608.1) scale(1.0126 1)" x="-9.74 0.14" y="0" font-size="15.89" fill="#000">10</text>
<text transform="translate(564.2 608.1) scale(1.0164 1)" x="-9.56 0.41" y="0" font-size="15.89" fill="#000">20</text>
<text transform="translate(608.12 608.1) scale(1.0347 1)" x="-9.09 0.51" y="0" font-size="15.89" fill="#000">40</text>
<text transform="translate(633.81 608.1) scale(1.0524 1)" x="-9.16 0.27" y="0" font-size="15.89" fill="#000">60</text>
<text transform="translate(666.18 608.1) scale(1.0202 1)" x="-14.56 -4.76 4.97" y="0" font-size="15.89" fill="#000">100</text>
<text transform="translate(65.95 31.1) scale(1.0216 1)" x="-9.07 0.43" y="0" font-size="15.89" fill="#000">67</text>
<text transform="translate(124.09 31.1) scale(0.9925 1)" x="-14.48 -4.59 5.15" y="0" font-size="15.89" fill="#000">165</text>
<text transform="translate(168.07 31.1) scale(0.9824 1)" x="-14.39 -4.56 5.41" y="0" font-size="15.89" fill="#000">350</text>
<text transform="translate(212.05 31.1) scale(1.0377 1)" x="-13.9 -4.52 4.86" y="0" font-size="15.89" fill="#000">664</text>
<text transform="translate(256.03 31.1) scale(1.0115 1)" x="-19.29 -9.57 0.04 9.66" y="0" font-size="15.89" fill="#000">1366</text>
<text transform="translate(314.17 31.1) scale(0.9977 1)" x="-19.14 -9.38 0.32 10.11" y="0" font-size="15.89" fill="#000">3376</text>
<text transform="translate(418.3 31.1) scale(1.0124 1)" x="-14.64 -4.79 5.05" y="0" font-size="15.89" fill="#000">170</text>
<text transform="translate(476.36 31.1) scale(1.0106 1)" x="-13.85 -4.23 5.59" y="0" font-size="15.89" fill="#000">422</text>
<text transform="translate(520.28 31.1) scale(1.0189 1)" x="-14.18 -4.49 5.31" y="0" font-size="15.89" fill="#000">850</text>
<text transform="translate(564.2 31.1) scale(1.0066 1)" x="-19.43 -9.52 0.37 10.15" y="0" font-size="15.89" fill="#000">1701</text>
<text transform="translate(608.12 31.1) scale(1.0156 1)" x="-18.88 -9.13 0.65 10.22" y="0" font-size="15.89" fill="#000">3402</text>
<text transform="translate(666.18 31.1) scale(1.0173 1)" x="-18.92 -9.23 0.59 10.32" y="0" font-size="15.89" fill="#000">8507</text>
<text transform="translate(81.8 626) scale(0.9816 1)" x="-1.98 7.64 17.72 23.03 31.88 41.62 51.8 56.84 67.06 76.93 86.21 91.43 101.4 106.2 111.5 120.74 131.38 136.42 146.29 151.65 161.25 169.58 179.2 188.76 193.65 200 215.37" y="0" font-size="16.22" fill="#000">Percentage of data used (%)</text>
<text transform="translate(433.6 626) scale(0.9816 1)" x="-1.98 7.67 17.79 23.12 32 41.78 52.01 57.06 67.32 77.23 86.55 91.79 101.8 106.62 111.94 121.22 131.9 136.95 146.86 152.24 161.88 170.24 179.9 189.5 194.4 200.78 216.21" y="0" font-size="16.29" fill="#000">Percentage of data used (%)</text>
<text transform="translate(88.4 11.7) scale(1.0144 1)" x="-1.64 9.68 19.28 33.19 42.22 51.66 56.98 61.71 71.07 75.62 80.88 86.6 91.48 101.12 105.17 114.38 118.42 127.53 136.57 141.18 148.33 158.29 172.2 181.36 185.27 194.05" y="0" font-size="15.63" fill="#000">Number of training samples</text>
<text transform="translate(436 11.7) scale(1.0144 1)" x="-1.71 10.12 20.15 34.69 44.13 54.01 59.57 64.51 74.3 79.06 84.56 90.54 95.63 105.72 109.94 119.58 123.8 133.32 142.78 147.59 155.06 165.48 180.02 189.6 193.69 202.86" y="0" font-size="16.34" fill="#000">Number of training samples</text>
<text transform="translate(14.8 183.62) rotate(-90) scale(0.9380 1)" x="-1.52 10.07 23.79 34.05 44.7 49.62 60.27 65.98 71.01 77.46 92.74 102.45" y="0" font-size="16.3" fill="#000">RMSE E / meV</text>
<text transform="translate(14.8 374.58) rotate(-90) scale(0.9494 1)" x="-1.57 9.84 23.36 33.46 44.02 48.81 58.44 64.03 69.01 75.28 90.35 99.9 111.31 116.39" y="0" font-size="16.24" fill="#000">RMSE F / meV/Å</text>
<text transform="translate(14.8 597.58) rotate(-90) scale(0.9754 1)" x="-1.5 10.87 19.96 30.41 35.99 45.69 55.65 65.47 74.94 79.79 90.88 104.09 113.91 124.35 128.88 138.4 143.79 148.69 154.63 169.36 178.64 189.84 194.7" y="0" font-size="16.25" fill="#000">Hydrogen RMSE F / meV/Å</text>
<text transform="translate(341.6 183.7) rotate(-90) scale(0.9380 1)" x="-1.52 10.1 23.85 34.13 44.82 49.75 60.43 66.15 71.19 77.66 92.98 102.72" y="0" font-size="16.34" fill="#000">RMSE E / meV</text>
<text transform="translate(340 372) rotate(-90) scale(0.9494 1)" x="-1.51 9.45 22.45 32.15 42.29 46.9 56.15 61.53 66.31 72.34 86.81 95.99 106.96 111.83" y="0" font-size="15.61" fill="#000">RMSE F / meV/Å</text>
<text transform="translate(340 548.8) rotate(-90) scale(0.9532 1)" x="-1.53 9.39 22.34 32 42.13 47.12 57.61 62.96 67.73 73.71 88.14 97.28" y="0" font-size="15.61" fill="#000">RMSE V / meV</text>
<text transform="translate(41.71 68.84) scale(0.9554 1)" x="-0.42" y="0" font-size="11.02" fill="#000">3</text>
<text transform="translate(22.56 74.84) scale(0.9970 1)" x="-1.29 8.59" y="0" font-size="15.89" fill="#000">10</text>
<text transform="translate(41.89 143.02) scale(0.9589 1)" x="-0.55" y="0" font-size="11.02" fill="#000">2</text>
<text transform="translate(22.77 149.02) scale(0.9970 1)" x="-1.29 8.59" y="0" font-size="15.89" fill="#000">10</text>
<text transform="translate(42.19 217.2) scale(0.9502 1)" x="-0.84" y="0" font-size="11.02" fill="#000">1</text>
<text transform="translate(22.69 223.2) scale(0.9970 1)" x="-1.29 8.59" y="0" font-size="15.89" fill="#000">10</text>
<text transform="translate(41.89 278.05) scale(0.9589 1)" x="-0.55" y="0" font-size="11.02" fill="#000">2</text>
<text transform="translate(22.77 284.05) scale(0.9970 1)" x="-1.29 8.59" y="0" font-size="15.89" fill="#000">10</text>
<text transform="translate(42.19 375.3) scale(0.9502 1)" x="-0.84" y="0" font-size="11.02" fill="#000">1</text>
<text transform="translate(22.69 381.3) scale(0.9970 1)" x="-1.29 8.59" y="0" font-size="15.89" fill="#000">10</text>
<text transform="translate(41.89 455.1) scale(0.9589 1)" x="-0.55" y="0" font-size="11.02" fill="#000">2</text>
<text transform="translate(22.77 461.1) scale(0.9970 1)" x="-1.29 8.59" y="0" font-size="15.89" fill="#000">10</text>
<text transform="translate(42.19 569.9) scale(0.9502 1)" x="-0.84" y="0" font-size="11.02" fill="#000">1</text>
<text transform="translate(22.69 575.9) scale(0.9970 1)" x="-1.29 8.59" y="0" font-size="15.89" fill="#000">10</text>
<text transform="translate(393.66 203.9) scale(0.9948 1)" x="-0.43" y="0" font-size="11.02" fill="#000">0</text>
<text transform="translate(374.62 209.9) scale(0.9970 1)" x="-1.29 8.59" y="0" font-size="15.89" fill="#000">10</text>
<text transform="translate(394.09 334.1) scale(0.9589 1)" x="-0.55" y="0" font-size="11.02" fill="#000">2</text>
<text transform="translate(374.97 340.1) scale(0.9970 1)" x="-1.29 8.59" y="0" font-size="15.89" fill="#000">10</text>
<text transform="translate(395.49 367.72) scale(0.9502 1)" x="-0.84" y="0" font-size="11.02" fill="#000">1</text>
<text transform="translate(375.99 373.72) scale(0.9970 1)" x="-1.29 8.59" y="0" font-size="15.89" fill="#000">10</text>
<text x="359.2" y="375.39" font-size="19.46" textLength="11.35" lengthAdjust="spacingAndGlyphs" fill="#000" style="stroke:none">×</text>
<text transform="translate(346.64 373.72) scale(1.0522 1)" x="-0.75" y="0" font-size="15.89" fill="#000">9</text>
<text transform="translate(395.49 405.31) scale(0.9502 1)" x="-0.84" y="0" font-size="11.02" fill="#000">1</text>
<text transform="translate(375.99 411.31) scale(0.9970 1)" x="-1.29 8.59" y="0" font-size="15.89" fill="#000">10</text>
<text x="359.2" y="412.97" font-size="19.46" textLength="11.35" lengthAdjust="spacingAndGlyphs" fill="#000" style="stroke:none">×</text>
<text transform="translate(346.71 411.31) scale(1.0298 1)" x="-0.69" y="0" font-size="15.89" fill="#000">8</text>
<text transform="translate(395.49 435.95) scale(0.9502 1)" x="-0.84" y="0" font-size="11.02" fill="#000">1</text>
<text transform="translate(375.99 441.95) scale(0.9970 1)" x="-1.29 8.59" y="0" font-size="15.89" fill="#000">10</text>
<text x="359.2" y="443.62" font-size="19.46" textLength="11.35" lengthAdjust="spacingAndGlyphs" fill="#000" style="stroke:none">×</text>
<text transform="translate(346.42 441.95) scale(1.0188 1)" x="-0.36" y="0" font-size="15.89" fill="#000">4</text>
<text transform="translate(395.49 463.25) scale(0.9502 1)" x="-0.84" y="0" font-size="11.02" fill="#000">1</text>
<text transform="translate(375.99 469.25) scale(0.9970 1)" x="-1.29 8.59" y="0" font-size="15.89" fill="#000">10</text>
<text x="359.2" y="470.91" font-size="19.46" textLength="11.35" lengthAdjust="spacingAndGlyphs" fill="#000" style="stroke:none">×</text>
<text transform="translate(346.84 469.25) scale(0.9783 1)" x="-0.61" y="0" font-size="15.89" fill="#000">3</text>
<text transform="translate(395.49 501.72) scale(0.9502 1)" x="-0.84" y="0" font-size="11.02" fill="#000">1</text>
<text transform="translate(375.99 507.72) scale(0.9970 1)" x="-1.29 8.59" y="0" font-size="15.89" fill="#000">10</text>
<text x="359.2" y="509.39" font-size="19.46" textLength="11.35" lengthAdjust="spacingAndGlyphs" fill="#000" style="stroke:none">×</text>
<text transform="translate(346.8 507.72) scale(0.9819 1)" x="-0.8" y="0" font-size="15.89" fill="#000">2</text>
<text transform="translate(394.39 567.5) scale(0.9502 1)" x="-0.84" y="0" font-size="11.02" fill="#000">1</text>
<text transform="translate(374.89 573.5) scale(0.9970 1)" x="-1.29 8.59" y="0" font-size="15.89" fill="#000">10</text>
<line x1="204.1" y1="239" x2="229.5" y2="239" stroke="#999999" stroke-width="2.1" stroke-linecap="square"/>
<rect x="212.85" y="235.05" width="7.9" height="7.9" fill="#999999"/>
<text transform="translate(240.6 243.3) scale(0.9006 1)" x="-0.89 11 19.97 29.67" y="0" font-size="13.32" fill="#000">MACE</text>
<line x1="204.1" y1="257.7" x2="229.5" y2="257.7" stroke="#6CBCE8" stroke-width="2.1" stroke-linecap="square"/>
<circle cx="216.8" cy="257.7" r="4.05" fill="#6CBCE8"/>
<text transform="translate(240.6 262) scale(0.9378 1)" x="-1.08 10.39 18.98 28.3 37.21 42.09 53.25 61.4 66.72 71.31" y="0" font-size="13.32" fill="#000">MACE-MP-f0</text>
<line x1="204.1" y1="276.3" x2="229.5" y2="276.3" stroke="#46AC79" stroke-width="2.1" stroke-linecap="square"/>
<path d="M216.8 271.8L220.95 280.2L212.65 280.2Z" fill="#46AC79"/>
<text transform="translate(240.6 280.6) scale(0.9381 1)" x="-1.08 10.38 18.97 28.29 37.2 42.07 53.23 61.38 66.7 71.29" y="0" font-size="13.32" fill="#000">MACE-MP-f4</text>
<line x1="204.1" y1="295" x2="229.5" y2="295" stroke="#DBA02A" stroke-width="2.1" stroke-linecap="square"/>
<path d="M216.8 289.5L222.3 295L216.8 300.5L211.3 295Z" fill="#DBA02A"/>
<text transform="translate(240.6 299.3) scale(0.9324 1)" x="-1.05 10.48 19.12 28.5 37.44 42.36 53.58 61.77 67.12 71.7" y="0" font-size="13.32" fill="#000">MACE-MP-f5</text>
<line x1="204.1" y1="313.7" x2="229.5" y2="313.7" stroke="#C878B2" stroke-width="2.1" stroke-linecap="square"/>
<circle cx="216.8" cy="313.7" r="4.05" fill="#C878B2"/>
<text transform="translate(240.6 318) scale(0.9409 1)" x="-1.09 10.34 18.9 28.2 37.08 41.93 53.06 61.19 66.5 71.07" y="0" font-size="13.32" fill="#000">MACE-MP-f6</text>
<line x1="599" y1="241.1" x2="627" y2="241.1" stroke="#808080" stroke-width="2" stroke-dasharray="7.7 2.5"/>
<text transform="translate(638.6 245.7) scale(0.8858 1)" x="0.32 10.27 21.01" y="0" font-size="14.52" fill="#000">ACE</text>
</g>
</svg>
</body></html>
